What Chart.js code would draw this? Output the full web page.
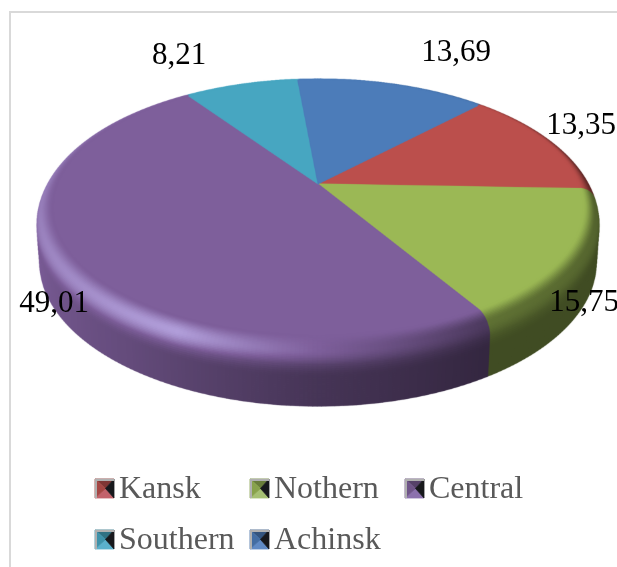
<!DOCTYPE html>
<html>
<head>
<meta charset="utf-8">
<title>Pie</title>
<script src="https://cdn.jsdelivr.net/npm/chart.js@4"></script>
<style>
    html, body { margin: 0; padding: 0; background: #fff; }
    canvas { display: block; }
</style>
</head>
<body>
<canvas id="chart" width="617" height="567"></canvas>
<script>
const categories = ['Kansk', 'Nothern', 'Central', 'Southern', 'Achinsk'];
const shares = [13.35, 15.75, 49.01, 8.21, 13.69];
const sliceColors = ['#bb4f4c', '#9bb855', '#7e5f9b', '#47a6c1', '#4c7cb9'];

// label centres, same order as categories
const labelSpots = [[581, 126], [584, 303], [54, 304], [179, 56], [456, 53]];
// legend marker corners, same order as categories
const legendSpots = [[95, 479], [250, 479], [405, 479], [95, 530], [250, 530]];

const serifFont = '"Liberation Serif", "Times New Roman", serif';

// perspective of the disc, the pie's own circle gets tilted through these
const tilt = { xScale: 2.5, yScale: 1.183, depth: -0.184 };
const rim = { width: 0.06, bottomWidth: 0.05, drop: 14.5, wallDrop: 50 };
// the disc is drawn big on a spare canvas and shrunk, hides the mesh seams
const meshScale = 3;

// brightness around the disc, angle in degrees clockwise from the right
const bevelLight = [[0, 0.52], [60, 0.62], [90, 1], [115, 1.36], [140, 1.26], [170, 1.18], [200, 1.15], [270, 1], [330, 0.52], [360, 0.52]];
const wallLight = [[0, 0.42], [60, 0.42], [90, 0.56], [125, 0.8], [170, 1], [200, 1.05], [270, 1], [330, 0.42], [360, 0.42]];

function lookup(table, angle) {
    const a = ((angle % 360) + 360) % 360;
    for (let i = 1; i < table.length; i++) {
        if (a <= table[i][0]) {
            const f = (a - table[i - 1][0]) / (table[i][0] - table[i - 1][0]);
            return table[i - 1][1] + (table[i][1] - table[i - 1][1]) * f;
        }
    }
    return table[table.length - 1][1];
}

// above 1 goes towards a pale blue so the highlight doesn't turn pink
function shade(hex, k) {
    const n = parseInt(hex.slice(1), 16);
    const c = [n >> 16, (n >> 8) & 255, n & 255].map((v, i) => {
        if (k <= 1) return Math.round(v * k);
        const lift = (k - 1) * (i === 2 ? 1.75 : 1.1);
        return Math.min(255, Math.round(v + (255 - v) * lift));
    });
    return `rgb(${c[0]},${c[1]},${c[2]})`;
}

function project(arc, angle, r, drop) {
    const u = Math.cos(angle) * r;
    const v = Math.sin(angle) * r;
    const w = 1 + tilt.depth * v;
    return {
        x: arc.x + arc.outerRadius * tilt.xScale * u / w,
        y: arc.y + (arc.outerRadius * tilt.yScale * v + drop) / w
    };
}

// rounded shoulder first, then the straight wall
function rimBands() {
    const bands = [];
    for (let i = 0; i <= 20; i++) {
        const q = i / 20;
        bands.push({
            r: 1 + rim.width * Math.sin(q * Math.PI / 2),
            drop: rim.drop * (1 - Math.cos(q * Math.PI / 2)),
            q: q
        });
    }
    for (let i = 1; i <= 20; i++) {
        bands.push({
            r: 1 + rim.width + (rim.bottomWidth - rim.width) * i / 20,
            drop: rim.drop + (rim.wallDrop - rim.drop) * i / 20,
            q: 1 + i / 20
        });
    }
    return bands;
}

function smooth(t) {
    const c = Math.max(0, Math.min(1, t));
    return c * c * (3 - 2 * c);
}

function bandLight(q, angleDeg) {
    const peak = lookup(bevelLight, angleDeg);
    const wall = lookup(wallLight, angleDeg);
    if (q < 0.55) return 1 + (peak - 1) * smooth(q / 0.55);
    return peak + (wall - peak) * smooth((q - 0.55) / 0.75);
}

function drawQuad(ctx, pts, color) {
    ctx.beginPath();
    ctx.moveTo(pts[0].x, pts[0].y);
    for (let i = 1; i < pts.length; i++) ctx.lineTo(pts[i].x, pts[i].y);
    ctx.closePath();
    ctx.fillStyle = color;
    ctx.strokeStyle = color;
    ctx.lineWidth = 0.8;
    ctx.fill();
    ctx.stroke();
}

const tiltedPie = {
    id: 'tiltedPie',
    beforeDatasetsDraw(chart) {
        const arcs = chart.getDatasetMeta(0).data;
        const bands = rimBands();
        const step = Math.PI / 240;
        const cells = [];

        const spare = document.createElement('canvas');
        spare.width = chart.width * meshScale;
        spare.height = chart.height * meshScale;
        const ctx = spare.getContext('2d');
        ctx.scale(meshScale, meshScale);

        arcs.forEach((arc, i) => {
            const n = Math.ceil((arc.endAngle - arc.startAngle) / step);
            for (let j = 0; j < n; j++) {
                const a0 = arc.startAngle + (arc.endAngle - arc.startAngle) * j / n;
                const a1 = arc.startAngle + (arc.endAngle - arc.startAngle) * (j + 1) / n;
                cells.push({ arc: arc, color: sliceColors[i], a0: a0, a1: a1 });
            }
        });
        // back of the disc first so the front covers it
        cells.sort((p, q) => Math.sin((p.a0 + p.a1) / 2) - Math.sin((q.a0 + q.a1) / 2));

        cells.forEach(c => {
            const deg = (c.a0 + c.a1) / 2 * 180 / Math.PI;
            for (let b = bands.length - 2; b >= 0; b--) {
                const t = bands[b];
                const o = bands[b + 1];
                drawQuad(ctx, [
                    project(c.arc, c.a0, t.r, t.drop),
                    project(c.arc, c.a1, t.r, t.drop),
                    project(c.arc, c.a1, o.r, o.drop),
                    project(c.arc, c.a0, o.r, o.drop)
                ], shade(c.color, bandLight((t.q + o.q) / 2, deg)));
            }
        });

        // flat top
        arcs.forEach((arc, i) => {
            const pts = [{ x: arc.x, y: arc.y }];
            const n = Math.ceil((arc.endAngle - arc.startAngle) / step);
            for (let j = 0; j <= n; j++) {
                pts.push(project(arc, arc.startAngle + (arc.endAngle - arc.startAngle) * j / n, 1, 0));
            }
            drawQuad(ctx, pts, sliceColors[i]);
        });

        chart.ctx.save();
        chart.ctx.imageSmoothingEnabled = true;
        chart.ctx.imageSmoothingQuality = 'high';
        chart.ctx.drawImage(spare, 0, 0, chart.width, chart.height);
        chart.ctx.restore();
        return false;
    }
};

function drawMarker(ctx, x, y, size, color) {
    const mid = { x: x + size / 2 + 1, y: y + size / 2 };
    const tl = { x: x, y: y };
    const tr = { x: x + size, y: y };
    const br = { x: x + size, y: y + size };
    const bl = { x: x, y: y + size };
    drawQuad(ctx, [tl, tr, mid], shade(color, 0.68));
    drawQuad(ctx, [bl, br, mid], shade(color, 1.1));
    drawQuad(ctx, [tl, bl, mid], shade(color, 0.88));
    drawQuad(ctx, [tr, br, mid], '#17181c');
    ctx.strokeStyle = '#b0b0b0';
    ctx.lineWidth = 2;
    ctx.beginPath();
    ctx.moveTo(x + 1, y + size);
    ctx.lineTo(x + 1, y + 1);
    ctx.lineTo(x + size, y + 1);
    ctx.stroke();
}

const frameAndText = {
    id: 'frameAndText',
    beforeDraw(chart) {
        const ctx = chart.ctx;
        ctx.save();
        ctx.strokeStyle = '#d9d9d9';
        ctx.lineWidth = 2;
        ctx.beginPath();
        ctx.moveTo(10, chart.height);
        ctx.lineTo(10, 12);
        ctx.lineTo(chart.width, 12);
        ctx.stroke();
        ctx.restore();
    },
    afterDraw(chart) {
        const ctx = chart.ctx;
        ctx.save();

        ctx.textBaseline = 'middle';
        ctx.font = '31px ' + serifFont;
        ctx.fillStyle = '#000';
        ctx.textAlign = 'center';
        shares.forEach((value, i) => {
            ctx.fillText(value.toFixed(2).replace('.', ','), labelSpots[i][0], labelSpots[i][1]);
        });

        ctx.textBaseline = 'alphabetic';
        ctx.textAlign = 'left';
        categories.forEach((name, i) => {
            const [x, y] = legendSpots[i];
            drawMarker(ctx, x, y, 19, sliceColors[i]);
            ctx.font = '32px ' + serifFont;
            ctx.fillStyle = '#595959';
            ctx.fillText(name, x + 24, y + 19);
        });
        ctx.restore();
    }
};

new Chart(document.getElementById('chart'), {
    type: 'pie',
    data: {
        labels: categories,
        datasets: [{
            data: shares,
            backgroundColor: sliceColors,
            borderWidth: 0
        }]
    },
    options: {
        responsive: false,
        animation: false,
        rotation: 44,
        layout: { padding: { left: 37, right: 18, top: 80, bottom: 279 } },
        plugins: {
            legend: { display: false },
            tooltip: { enabled: false }
        }
    },
    plugins: [frameAndText, tiltedPie]
});
</script>
</body>
</html>
